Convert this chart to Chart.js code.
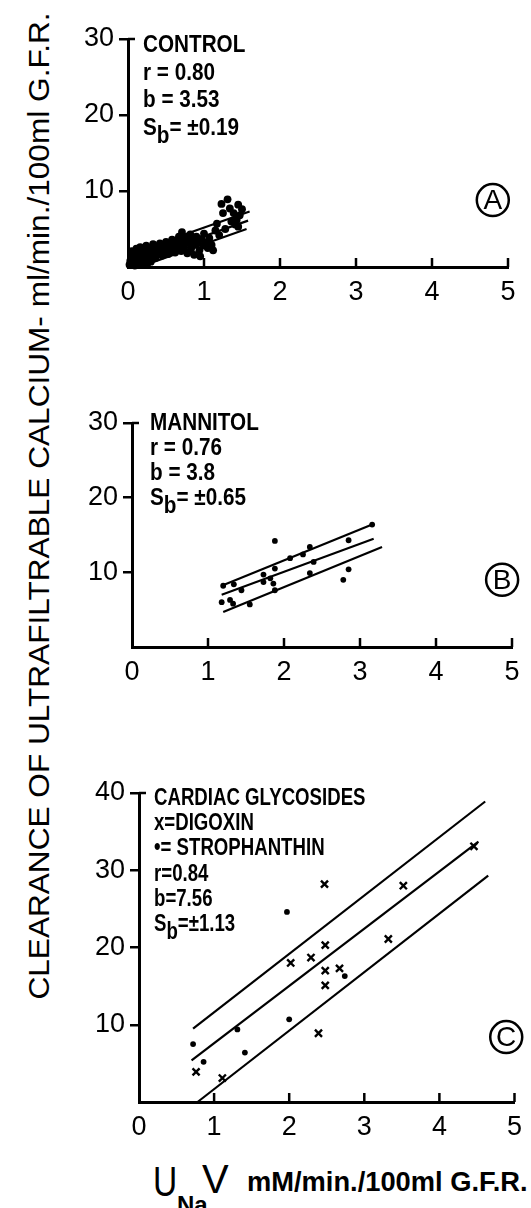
<!DOCTYPE html>
<html>
<head>
<meta charset="utf-8">
<script src="https://cdn.jsdelivr.net/npm/chart.js@4.4.0/dist/chart.umd.min.js"></script>
<style>
  html, body { margin: 0; padding: 0; background: #fff; }
  body { width: 531px; height: 1208px; position: relative; overflow: hidden; color: #000;
         font-family: 'Liberation Sans', Arial, sans-serif; }
  canvas { position: absolute; }
  .lbl { position: absolute; white-space: nowrap; line-height: 1; }
  #ytitle { left: 39px; top: 506px; font-size: 29px; }
  #xu { left: 153px; top: 1160px; font-size: 43px; transform: scaleX(0.78); transform-origin: 0 50%; }
  #xv { left: 202px; top: 1159px; font-size: 40px; }
  #xna { left: 177px; top: 1193px; font-size: 24px; font-weight: bold; }
  #xrest { left: 247px; top: 1169px; font-size: 27px; font-weight: bold; transform-origin: 0 50%; }
</style>
</head>
<body>
<canvas id="chartA" width="471" height="305" style="left:60px;top:10px;width:471px;height:305px"></canvas>
<canvas id="chartB" width="471" height="295" style="left:60px;top:395px;width:471px;height:295px"></canvas>
<canvas id="chartC" width="471" height="385" style="left:60px;top:765px;width:471px;height:385px"></canvas>

<div class="lbl" id="ytitle">CLEARANCE OF ULTRAFILTRABLE CALCIUM- ml/min./100ml G.F.R.</div>
<div class="lbl" id="xu">U</div>
<div class="lbl" id="xv">V</div>
<div class="lbl" id="xna">Na</div>
<div class="lbl" id="xrest">mM/min./100ml G.F.R.</div>

<script>
// x axis ticks shared by all panels
const xTicks = [0, 1, 2, 3, 4, 5];

// A - control
const controlX = [0.02,0.03,0.04,0.05,0.06,0.07,0.08,0.09,0.10,0.11,0.12,0.13,0.14,0.15,0.16,0.17,0.18,
  0.20,0.21,0.22,0.24,0.25,0.26,0.28,0.29,0.30,0.32,0.33,0.35,0.36,0.38,0.40,0.42,0.43,0.45,0.47,0.48,0.50,
  0.52,0.53,0.55,0.57,0.58,0.60,0.62,0.63,0.65,0.67,0.68,0.70,0.71,0.72,0.74,0.76,0.78,0.80,0.82,0.83,0.85,
  0.87,0.88,0.90,0.92,0.94,0.95,0.97,0.99,1.00,1.02,1.05,1.07,1.10,1.12,1.15,1.17,1.20,1.23,1.25,1.28,1.31,
  1.34,1.36,1.39,1.41,1.43,1.45,1.45,1.47,1.50];
const controlY = [0.3,0.8,1.5,2.1,0.5,1.2,1.8,0.2,0.9,2.4,1.4,0.4,2.0,1.0,2.6,0.6,1.6,
  2.2,0.9,1.3,2.8,0.3,1.9,1.1,2.5,0.7,1.6,3.0,2.1,1.2,2.7,1.8,3.1,2.3,1.5,2.9,2.0,3.3,
  2.5,1.7,3.0,2.2,3.6,2.7,1.9,3.3,2.4,4.0,3.0,2.1,4.6,3.5,2.6,3.9,1.8,3.2,4.3,2.4,3.6,
  1.6,2.9,4.0,3.3,2.2,1.4,3.7,2.8,4.4,3.2,2.5,3.8,2.9,2.2,4.8,5.7,4.2,8.3,7.1,5.0,8.9,
  7.7,6.0,7.1,5.6,6.2,8.2,5.3,6.8,7.6];
const controlBandX = [[0.10, 1.60], [0.10, 1.58], [0.15, 1.56]];
const controlBandY = [[2.0, 7.3], [0.85, 6.1], [0.0, 5.0]];
const controlYTicks = [0, 10, 20, 30];

// B - mannitol
const mannitolX = [1.20,1.34,1.18,1.29,1.33,1.44,1.55,1.73,1.73,1.88,1.82,1.86,1.88,1.88,2.08,2.25,2.34,2.39,2.34,2.85,2.85,2.78,3.16];
const mannitolY = [8.2,8.4,6.0,6.3,5.8,7.6,5.7,8.7,9.7,10.5,9.2,8.5,7.6,14.2,11.9,12.4,13.4,11.4,9.9,14.3,10.4,9.0,16.4];
const mannitolBandX = [[1.18, 3.16], [1.18, 3.18], [1.20, 3.29]];
const mannitolBandY = [[8.2, 16.4], [7.0, 14.5], [4.7, 13.4]];
const mannitolYTicks = [0, 10, 20, 30];

// C - cardiac glycosides
const digoxinX = [4.46,3.52,2.47,3.32,2.48,2.02,2.29,2.48,2.67,2.48,2.39,0.76,1.11];
const digoxinY = [33.1,28.0,28.2,21.1,20.3,18.0,18.7,17.0,17.3,15.1,8.9,3.9,3.1];
const strophX = [1.97,2.00,1.31,0.72,1.41,0.86,2.74];
const strophY = [24.6,10.7,9.4,7.5,6.4,5.2,16.3];
const glycoBandX = [[0.72, 4.61], [0.70, 4.52], [0.78, 4.65]];
const glycoBandY = [[9.5, 38.9], [5.4, 33.7], [0.0, 29.3]];
const glycoYTicks = [0, 10, 20, 30, 40];

const tickFont = { family: "'Liberation Sans', Arial, sans-serif", size: 27 };
const noteFont = "bold 23px 'Liberation Sans', Arial, sans-serif";

function pts(xs, ys) {
  return xs.map((x, i) => ({ x: x, y: ys[i] }));
}

function bands(bx, by) {
  return bx.map((xs, i) => ({
    data: pts(xs, by[i]),
    showLine: true,
    borderColor: '#000',
    borderWidth: 2.2,
    pointRadius: 0,
    clip: false
  }));
}

// text block, circled letter, inward x ticks and the cap on the y axis
const notesPlugin = {
  id: 'notes',
  afterDraw(chart, args, opts) {
    const ctx = chart.ctx;
    const a = chart.chartArea;
    const xs = chart.scales.x;
    const ys = chart.scales.y;
    ctx.save();
    ctx.fillStyle = '#000';
    ctx.strokeStyle = '#000';

    // inward tick marks on the x axis
    ctx.lineWidth = 2.5;
    xs.ticks.forEach(t => {
      if (t.value === 0) return;
      const px = xs.getPixelForValue(t.value);
      ctx.beginPath();
      ctx.moveTo(px, a.bottom);
      ctx.lineTo(px, a.bottom - 9);
      ctx.stroke();
    });
    // small stub to the right at the top of the y axis
    ctx.beginPath();
    ctx.moveTo(a.left, a.top);
    ctx.lineTo(a.left + 7, a.top);
    ctx.stroke();

    // the text lines, squeezed sideways like the condensed lettering of the figure
    ctx.font = noteFont;
    ctx.textAlign = 'left';
    ctx.textBaseline = 'alphabetic';
    const k = opts.squeeze;
    opts.lines.forEach((ln, i) => {
      let x = a.left + opts.dx;
      const y = a.top + opts.dy + i * opts.gap;
      const parts = typeof ln === 'string' ? [ln] : ln;
      parts.forEach(p => {
        const sub = p[0] === '_';
        const s = sub ? p.slice(1) : p;
        ctx.save();
        ctx.translate(x, sub ? y + 8 : y);
        ctx.scale(k, 1);
        ctx.fillText(s, 0, 0);
        ctx.restore();
        x += ctx.measureText(s).width * k;
      });
    });

    // circled panel letter
    const cx = xs.getPixelForValue(opts.badgeAt[0]);
    const cy = ys.getPixelForValue(opts.badgeAt[1]);
    ctx.lineWidth = 2.5;
    ctx.beginPath();
    ctx.arc(cx, cy, 16, 0, Math.PI * 2);
    ctx.stroke();
    ctx.font = "28px 'Liberation Sans', Arial, sans-serif";
    ctx.textAlign = 'center';
    ctx.textBaseline = 'middle';
    ctx.fillText(opts.badge, cx, cy + 1);
    ctx.restore();
  }
};

function makePanel(id, box, area, yTicks, datasets, notes) {
  const yMax = yTicks[yTicks.length - 1];
  return new Chart(document.getElementById(id), {
    type: 'scatter',
    data: { datasets: datasets },
    options: {
      responsive: false,
      animation: false,
      devicePixelRatio: 1,
      layout: {
        padding: { left: 0, top: area.t - box.t, right: box.l + box.w - area.r, bottom: 0 }
      },
      plugins: { legend: { display: false }, tooltip: { enabled: false }, notes: notes },
      scales: {
        x: {
          type: 'linear', min: 0, max: 5,
          afterFit(s) { s.height = box.t + box.h - area.b; },
          afterBuildTicks(s) { s.ticks = xTicks.map(v => ({ value: v })); },
          border: { display: true, color: '#000', width: 3 },
          grid: { drawOnChartArea: false, drawTicks: false },
          ticks: { color: '#000', font: tickFont, padding: 9, maxRotation: 0 }
        },
        y: {
          type: 'linear', min: 0, max: yMax,
          afterFit(s) { s.width = area.l - box.l; },
          afterBuildTicks(s) { s.ticks = yTicks.map(v => ({ value: v })); },
          border: { display: true, color: '#000', width: 3 },
          grid: {
            drawOnChartArea: false, tickLength: 9, lineWidth: 2.5,
            color: c => (c.tick && c.tick.value === 0) ? 'rgba(0,0,0,0)' : '#000'
          },
          ticks: {
            color: '#000', font: tickFont, padding: 5,
            callback: v => v === 0 ? '' : String(v)
          }
        }
      }
    },
    plugins: [notesPlugin]
  });
}

makePanel('chartA', { l: 60, t: 10, w: 471, h: 305 }, { l: 128, t: 39, r: 508, b: 267 }, controlYTicks,
  [{ data: pts(controlX, controlY), pointRadius: 3.9, pointBackgroundColor: '#000', pointBorderWidth: 0, clip: false }]
    .concat(bands(controlBandX, controlBandY)),
  { lines: ['CONTROL', 'r = 0.80', 'b = 3.53', ['S', '_b', '= \u00b10.19']], dx: 15, dy: 13, gap: 27.5, squeeze: 0.9,
    badge: 'A', badgeAt: [4.8, 8.8] });

makePanel('chartB', { l: 60, t: 395, w: 471, h: 295 }, { l: 132, t: 423, r: 512, b: 647 }, mannitolYTicks,
  [{ data: pts(mannitolX, mannitolY), pointRadius: 2.9, pointBackgroundColor: '#000', pointBorderWidth: 0, clip: false }]
    .concat(bands(mannitolBandX, mannitolBandY)),
  { lines: ['MANNITOL', 'r = 0.76', 'b = 3.8', ['S', '_b', '= \u00b10.65']], dx: 18, dy: 7, gap: 25, squeeze: 0.9,
    badge: 'B', badgeAt: [4.87, 9.0] });

makePanel('chartC', { l: 60, t: 765, w: 471, h: 385 }, { l: 139, t: 793, r: 518, b: 1102 }, glycoYTicks,
  [{ data: pts(digoxinX, digoxinY), pointStyle: 'crossRot', pointRadius: 5, borderColor: '#000', pointBorderWidth: 2.4, clip: false },
   { data: pts(strophX, strophY), pointRadius: 2.9, pointBackgroundColor: '#000', pointBorderWidth: 0, clip: false }]
    .concat(bands(glycoBandX, glycoBandY)),
  { lines: ['CARDIAC GLYCOSIDES', 'x=DIGOXIN', '\u2022= STROPHANTHIN', 'r=0.84', 'b=7.56', ['S', '_b', '=\u00b11.13']],
    dx: 15, dy: 12, gap: 25.2, squeeze: 0.81, badge: 'C', badgeAt: [4.89, 8.4] });

// stretch the axis titles to the lengths they have in the figure
const yt = document.getElementById('ytitle');
yt.style.transform = 'translate(-50%,-50%) rotate(-90deg) scaleX(' + (987 / yt.offsetWidth) + ')';
const xr = document.getElementById('xrest');
xr.style.transform = 'scaleX(' + (281 / xr.offsetWidth) + ')';
</script>
</body>
</html>
